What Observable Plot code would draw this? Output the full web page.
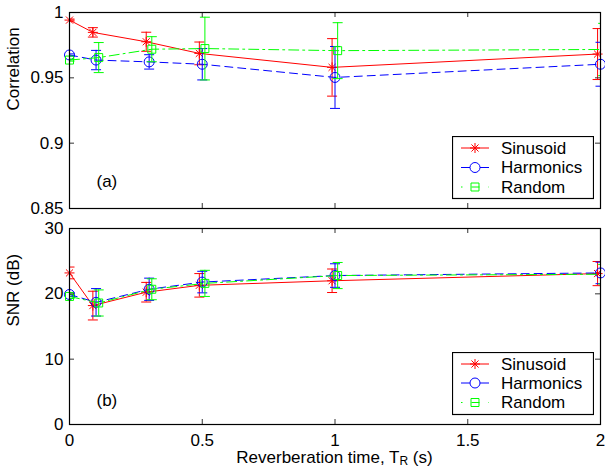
<!DOCTYPE html>
<html>
<head>
<meta charset="utf-8">
<script src="https://cdn.jsdelivr.net/npm/d3@7"></script>
<script src="https://cdn.jsdelivr.net/npm/@observablehq/plot@0.6"></script>
<style>
  html, body { margin: 0; padding: 0; background: #fff; }
  #wrap { position: relative; width: 605px; height: 473px; font-family: "Liberation Sans", Arial, Helvetica, sans-serif; }
  #wrap svg { display: block; }
  .legend { position: absolute; }
  #xlabel { position: absolute; left: 69px; width: 531px; top: 449px; text-align: center; font-size: 17px; line-height: 17px; color: #000; }
  #xlabel sub { font-size: 12px; position: relative; top: 2px; vertical-align: baseline; }
</style>
</head>
<body>
<div id="wrap"></div>
<script>
// ---------- data ----------
const seriesNames = ["Sinusoid", "Harmonics", "Random"];
const seriesColors = ["#ff0000", "#0000ff", "#00ff00"];
const seriesDash = [null, "8,5", "10,4,2,4"];

const xSin = [0, 0.088, 0.289, 0.489, 0.989, 1.989];
const xHar = [0, 0.1, 0.3, 0.5, 1.0, 2.0];
const xRan = [0, 0.11, 0.31, 0.51, 1.01, 2.01];

const corrSin    = [0.9942, 0.9848, 0.9776, 0.9687, 0.9580, 0.9682];
const corrSinErr = [0.0008, 0.0036, 0.0073, 0.0087, 0.0220, 0.0195];
const corrHar    = [0.9675, 0.9636, 0.9622, 0.9604, 0.9503, 0.9604];
const corrHarErr = [0.0008, 0.0074, 0.0055, 0.0120, 0.0237, 0.0168];
const corrRan    = [0.9636, 0.9655, 0.9719, 0.9724, 0.9708, 0.9717];
const corrRanErr = [0.0008, 0.0115, 0.0096, 0.0240, 0.0214, 0.0200];

const snrSin    = [23.2, 18.2, 20.25, 21.3, 22.0, 23.1];
const snrSinErr = [0.9, 2.2, 1.5, 1.8, 1.8, 1.85];
const snrHar    = [19.9, 18.7, 20.7, 21.8, 22.8, 23.2];
const snrHarErr = [0.3, 2.1, 1.7, 1.65, 1.8, 1.65];
const snrRan    = [19.6, 18.6, 20.7, 21.6, 22.8, 23.0];
const snrRanErr = [0.3, 2.0, 1.6, 2.0, 2.0, 1.5];

const xTicks = [0, 0.5, 1, 1.5, 2];
const corrTicks = [0.85, 0.9, 0.95, 1];
const snrTicks = [0, 10, 20, 30];
const xDomain = [0, 2];

// ---------- symbols ----------
const starSymbol = {
  draw(ctx, size) {
    const r = Math.sqrt(size / Math.PI), d = r * 0.7071;
    ctx.moveTo(-r, 0); ctx.lineTo(r, 0);
    ctx.moveTo(0, -r); ctx.lineTo(0, r);
    ctx.moveTo(-d, -d); ctx.lineTo(d, d);
    ctx.moveTo(-d, d); ctx.lineTo(d, -d);
  }
};
const capSymbol = {
  draw(ctx, size) {
    const w = Math.sqrt(size / Math.PI);
    ctx.moveTo(-w, 0); ctx.lineTo(w, 0);
  }
};
const seriesSymbols = [starSymbol, "circle", "square"];
const seriesR = [5, 5, 4.5];

function rows(xs, ys, es) { return xs.map((x, i) => ({x, y: ys[i], e: es[i]})); }

// MATLAB-like clipping: markers whose centre lies outside the axes are not drawn
const inside = d => d.x >= xDomain[0] && d.x <= xDomain[1];

function seriesMarks(data, k) {
  const color = seriesColors[k];
  return [
    Plot.line(data, {x: "x", y: "y", stroke: color, strokeWidth: 1, strokeDasharray: seriesDash[k], clip: true}),
    Plot.ruleX(data, {x: "x", y1: d => d.y - d.e, y2: d => d.y + d.e, stroke: color, strokeWidth: 1, clip: true}),
    Plot.dot(data, {x: "x", y: d => d.y - d.e, symbol: capSymbol, r: 5, stroke: color, fill: "none", strokeWidth: 1, clip: true}),
    Plot.dot(data, {x: "x", y: d => d.y + d.e, symbol: capSymbol, r: 5, stroke: color, fill: "none", strokeWidth: 1, clip: true}),
    Plot.dot(data, {filter: inside, x: "x", y: "y", symbol: seriesSymbols[k], r: seriesR[k], stroke: color, fill: "none", strokeWidth: 1})
  ];
}

const W = 605, ML = 69, MR = 5;
const frameW = W - ML - MR;
const fontFamily = '"Liberation Sans", Arial, Helvetica, sans-serif';

function panel({height, mt, mb, yDomain, yTicks, sets, ylabel, tag, tagDy, showX}) {
  const frameH = height - mt - mb;
  const marks = [];
  sets.forEach((d, k) => marks.push(...seriesMarks(d, k)));
  marks.push(
    Plot.tickX(xTicks, {x: d => d, insetTop: frameH - 5, stroke: "#333"}),
    Plot.tickX(xTicks, {x: d => d, insetBottom: frameH - 5, stroke: "#333"}),
    Plot.tickY(yTicks, {y: d => d, insetRight: frameW - 5, stroke: "#333"}),
    Plot.tickY(yTicks, {y: d => d, insetLeft: frameW - 5, stroke: "#333"}),
    Plot.frame({stroke: "#000", strokeWidth: 1.2}),
    Plot.axisY(yTicks, {tickSize: 0, tickPadding: 6, fontSize: 17, label: null, tickFormat: d3.format("~g")}),
    Plot.text([ylabel], {frameAnchor: "left", rotate: -90, dx: -56, fontSize: 17, fill: "#000"}),
    Plot.text([tag], {frameAnchor: "bottom-left", textAnchor: "start", dx: 27, dy: tagDy, fontSize: 17, fill: "#000"})
  );
  if (showX) marks.push(Plot.axisX(xTicks, {tickSize: 0, tickPadding: 9, fontSize: 17, label: null, tickFormat: d3.format("~g")}));
  else marks.push(Plot.axisX({ticks: [], label: null}));
  return Plot.plot({
    width: W, height, marginTop: mt, marginBottom: mb, marginLeft: ML, marginRight: MR,
    style: {fontFamily, color: "#000", background: "#fff", overflow: "visible"},
    x: {domain: xDomain},
    y: {domain: yDomain},
    marks
  });
}

const wrap = document.getElementById("wrap");

const topPanel = panel({
  height: 218, mt: 12, mb: 10, yDomain: [0.85, 1], yTicks: corrTicks,
  sets: [rows(xSin, corrSin, corrSinErr), rows(xHar, corrHar, corrHarErr), rows(xRan, corrRan, corrRanErr)],
  ylabel: "Correlation", tag: "(a)", tagDy: -22, showX: false
});
const bottomPanel = panel({
  height: 255, mt: 10, mb: 49, yDomain: [0, 30], yTicks: snrTicks,
  sets: [rows(xSin, snrSin, snrSinErr), rows(xHar, snrHar, snrHarErr), rows(xRan, snrRan, snrRanErr)],
  ylabel: "SNR (dB)", tag: "(b)", tagDy: -19, showX: true
});
wrap.appendChild(topPanel);
wrap.appendChild(bottomPanel);

// x-axis label (with subscript)
const xl = document.createElement("div");
xl.id = "xlabel";
xl.innerHTML = "Reverberation time, T<sub>R</sub> (s)";
wrap.appendChild(xl);

// legends
function legend(left, topPx, rowYs) {
  const div = document.createElement("div");
  div.className = "legend";
  div.style.left = left + "px";
  div.style.top = topPx + "px";
  const svg = d3.create("svg").attr("width", 142).attr("height", 64);
  svg.append("rect").attr("x", 0.5).attr("y", 0.5).attr("width", 141).attr("height", 62)
    .attr("fill", "#fff").attr("stroke", "#000").attr("stroke-width", 1.2);
  const sampleDash = [null, "9,10", "1.5,9,8,9"];
  seriesNames.forEach((name, k) => {
    const y = rowYs[k];
    const g = svg.append("g");
    g.append("line").attr("x1", 9).attr("x2", 37).attr("y1", y).attr("y2", y)
      .attr("stroke", seriesColors[k]).attr("stroke-width", 1)
      .attr("stroke-dasharray", sampleDash[k]);
    const sym = seriesSymbols[k] === "circle" ? d3.symbolCircle : seriesSymbols[k] === "square" ? d3.symbolSquare : starSymbol;
    const size = Math.PI * seriesR[k] * seriesR[k];
    g.append("path").attr("d", d3.symbol(sym, size)()).attr("transform", `translate(23,${y})`)
      .attr("fill", "none").attr("stroke", seriesColors[k]).attr("stroke-width", 1);
    g.append("text").attr("x", 49).attr("y", y).attr("dy", "0.35em")
      .attr("font-size", 17).attr("font-family", fontFamily).attr("fill", "#000").text(name);
  });
  div.appendChild(svg.node());
  wrap.appendChild(div);
}
legend(452, 136, [12, 31.5, 51]);
legend(452, 352, [12, 31, 50.5]);
</script>
</body>
</html>
